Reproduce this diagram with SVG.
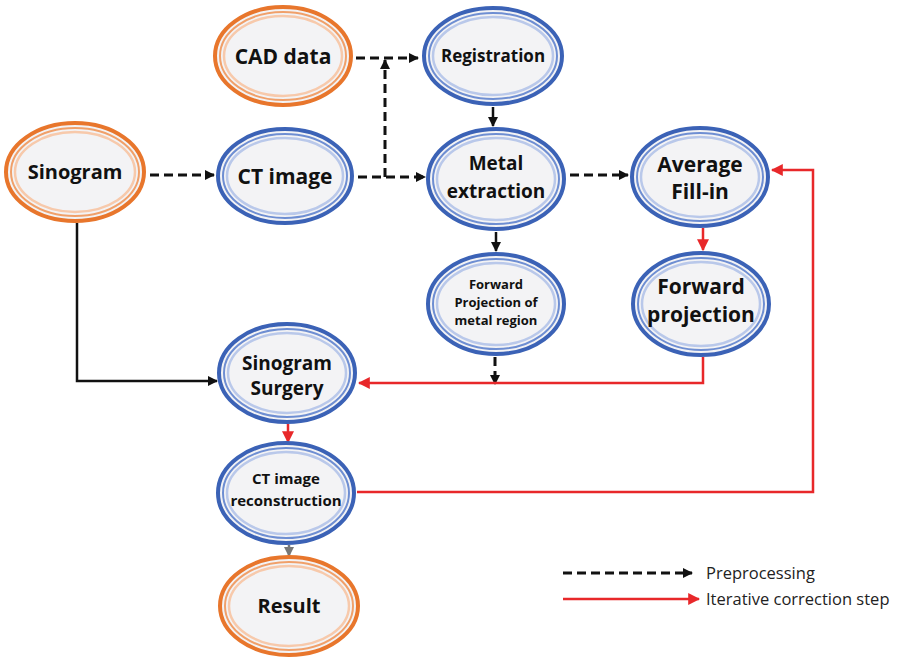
<svg xmlns="http://www.w3.org/2000/svg" width="897" height="658" viewBox="0 0 897 658">
  <style>
    .o1 { fill: #f3f3f5; stroke: #3b62b6; stroke-width: 4; }
    .o2 { fill: none; stroke: #6e8ed2; stroke-width: 2; }
    .o3 { fill: none; stroke: #b9c8ea; stroke-width: 2.5; }
    .r1 { fill: #f3f3f5; stroke: #e8762c; stroke-width: 4; }
    .r2 { fill: none; stroke: #f0a06a; stroke-width: 2; }
    .r3 { fill: none; stroke: #f7c9ab; stroke-width: 2.5; }
    text { font-family: "Open Sans", "Noto Sans", "DejaVu Sans", sans-serif; font-weight: bold; fill: #111; text-anchor: middle; }
    .leg { font-weight: normal; text-anchor: start; font-size: 16.5px; fill: #222; }
    .dash { fill: none; stroke: #111; stroke-width: 3; stroke-dasharray: 9 5; }
    .solid { fill: none; stroke: #111; stroke-width: 2.5; }
    .red { fill: none; stroke: #e8282a; stroke-width: 2.5; }
    .gray { fill: none; stroke: #777; stroke-width: 2.5; }
  </style>
  <defs>
    <marker id="ak" viewBox="0 0 10 10" refX="9" refY="5" markerWidth="10" markerHeight="10" markerUnits="userSpaceOnUse" orient="auto">
      <path d="M0,0 L10,5 L0,10 z" fill="#111"/>
    </marker>
    <marker id="ar" viewBox="0 0 10 10" refX="9" refY="5" markerWidth="12" markerHeight="12" markerUnits="userSpaceOnUse" orient="auto">
      <path d="M0,0 L10,5 L0,10 z" fill="#e8282a"/>
    </marker>
    <marker id="ag" viewBox="0 0 10 10" refX="9" refY="5" markerWidth="10" markerHeight="10" markerUnits="userSpaceOnUse" orient="auto">
      <path d="M0,0 L10,5 L0,10 z" fill="#777"/>
    </marker>
  </defs>

  <rect width="897" height="658" fill="#ffffff"/>

  <!-- connectors -->
  <g id="connectors">
    <path class="dash" d="M356,58 H418" marker-end="url(#ak)"/>
    <path class="dash" d="M385,177 V60" marker-end="url(#ak)"/>
    <path class="dash" d="M150,175 H214" marker-end="url(#ak)"/>
    <path class="dash" d="M358,177 H425" marker-end="url(#ak)"/>
    <path class="dash" d="M570,175 H628" marker-end="url(#ak)"/>
    <path class="solid" d="M493,107 V126" marker-end="url(#ak)"/>
    <path class="solid" d="M496,232 V251" marker-end="url(#ak)"/>
    <path class="dash" d="M495,357 V384" marker-end="url(#ak)"/>
    <path class="solid" d="M77,223 V381 H217" marker-end="url(#ak)"/>
    <path class="red" d="M703,228 V250" marker-end="url(#ar)"/>
    <path class="red" d="M703,357 V383 H359" marker-end="url(#ar)"/>
    <path class="red" d="M288,424 V442" marker-end="url(#ar)"/>
    <path class="red" d="M357,492 H813 V170 H772" marker-end="url(#ar)"/>
    <path class="gray" d="M289,545 V556" marker-end="url(#ag)"/>
  </g>

  <!-- nodes -->
  <g id="cad">
    <ellipse class="r1" cx="283" cy="56" rx="68" ry="49"/>
    <ellipse class="r2" cx="283" cy="56" rx="63" ry="44"/>
    <ellipse class="r3" cx="283" cy="56" rx="59" ry="40"/>
    <text x="283" y="64" font-size="21">CAD data</text>
  </g>
  <g id="registration">
    <ellipse class="o1" cx="493" cy="56" rx="69" ry="48"/>
    <ellipse class="o2" cx="493" cy="56" rx="64" ry="43"/>
    <ellipse class="o3" cx="493" cy="56" rx="60" ry="39"/>
    <text x="493" y="62" font-size="17">Registration</text>
  </g>
  <g id="sinogram">
    <ellipse class="r1" cx="75" cy="172" rx="69" ry="49"/>
    <ellipse class="r2" cx="75" cy="172" rx="64" ry="44"/>
    <ellipse class="r3" cx="75" cy="172" rx="60" ry="40"/>
    <text x="75" y="179" font-size="20">Sinogram</text>
  </g>
  <g id="ctimage">
    <ellipse class="o1" cx="285" cy="176" rx="67" ry="47"/>
    <ellipse class="o2" cx="285" cy="176" rx="62" ry="42"/>
    <ellipse class="o3" cx="285" cy="176" rx="58" ry="38"/>
    <text x="285" y="184" font-size="21">CT image</text>
  </g>
  <g id="metal">
    <ellipse class="o1" cx="496" cy="179" rx="68" ry="50"/>
    <ellipse class="o2" cx="496" cy="179" rx="63" ry="45"/>
    <ellipse class="o3" cx="496" cy="179" rx="59" ry="41"/>
    <text x="496" y="170" font-size="19">Metal</text>
    <text x="496" y="198" font-size="19">extraction</text>
  </g>
  <g id="average">
    <ellipse class="o1" cx="700" cy="177" rx="68" ry="49"/>
    <ellipse class="o2" cx="700" cy="177" rx="63" ry="44"/>
    <ellipse class="o3" cx="700" cy="177" rx="59" ry="40"/>
    <text x="700" y="172" font-size="21">Average</text>
    <text x="700" y="199" font-size="21">Fill-in</text>
  </g>
  <g id="fpmetal">
    <ellipse class="o1" cx="496" cy="304" rx="68" ry="50"/>
    <ellipse class="o2" cx="496" cy="304" rx="63" ry="45"/>
    <ellipse class="o3" cx="496" cy="304" rx="59" ry="41"/>
    <text x="496" y="289" font-size="13">Forward</text>
    <text x="496" y="307" font-size="13">Projection of</text>
    <text x="496" y="325" font-size="13">metal region</text>
  </g>
  <g id="fproj">
    <ellipse class="o1" cx="701" cy="304" rx="68" ry="51"/>
    <ellipse class="o2" cx="701" cy="304" rx="63" ry="46"/>
    <ellipse class="o3" cx="701" cy="304" rx="59" ry="42"/>
    <text x="701" y="294" font-size="21">Forward</text>
    <text x="701" y="322" font-size="21">projection</text>
  </g>
  <g id="surgery">
    <ellipse class="o1" cx="287" cy="373" rx="68" ry="49"/>
    <ellipse class="o2" cx="287" cy="373" rx="63" ry="44"/>
    <ellipse class="o3" cx="287" cy="373" rx="59" ry="40"/>
    <text x="287" y="370" font-size="19">Sinogram</text>
    <text x="287" y="395" font-size="19">Surgery</text>
  </g>
  <g id="recon">
    <ellipse class="o1" cx="286" cy="493" rx="68" ry="50"/>
    <ellipse class="o2" cx="286" cy="493" rx="63" ry="45"/>
    <ellipse class="o3" cx="286" cy="493" rx="59" ry="41"/>
    <text x="286" y="484" font-size="15">CT image</text>
    <text x="286" y="506" font-size="15">reconstruction</text>
  </g>
  <g id="result">
    <ellipse class="r1" cx="289" cy="606" rx="69" ry="49"/>
    <ellipse class="r2" cx="289" cy="606" rx="64" ry="44"/>
    <ellipse class="r3" cx="289" cy="606" rx="60" ry="40"/>
    <text x="289" y="613" font-size="20">Result</text>
  </g>

  <!-- legend -->
  <g id="legend">
    <path class="dash" d="M563,573 H692" marker-end="url(#ak)"/>
    <text class="leg" x="706" y="579">Preprocessing</text>
    <path class="red" d="M563,599 H699" marker-end="url(#ar)"/>
    <text class="leg" x="706" y="605">Iterative correction step</text>
  </g>
</svg>
